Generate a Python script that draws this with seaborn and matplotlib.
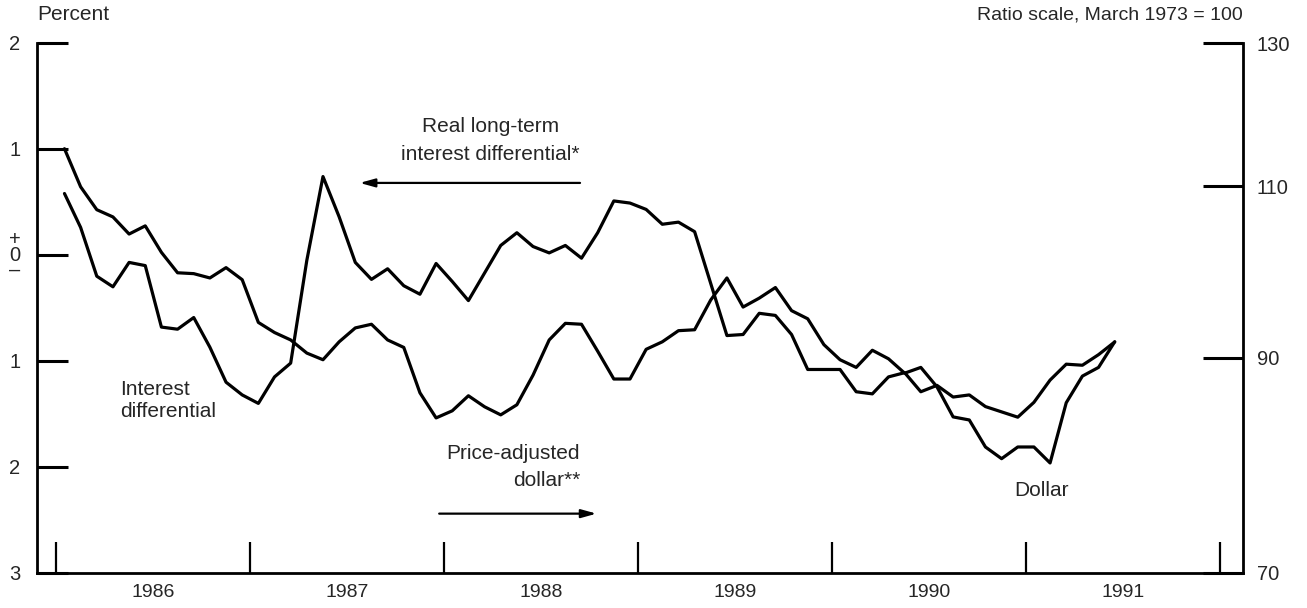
import numpy as np
import pandas as pd
import matplotlib
matplotlib.use("Agg")
import matplotlib.pyplot as plt
import seaborn as sns
from matplotlib.ticker import FixedLocator, FixedFormatter, NullLocator

sns.set_style("white")
plt.rcParams['font.family'] = ['Liberation Sans', 'DejaVu Sans']

# monthly values, Jan 1986 - Jun 1991
interest_diff = [0.58, 0.26, -0.20, -0.30, -0.07, -0.10, -0.68, -0.70, -0.59, -0.87, -1.20, -1.32,
                 -1.40, -1.15, -1.02, -0.05, 0.74, 0.36, -0.07, -0.23, -0.13, -0.29, -0.37, -0.08,
                 -0.25, -0.43, -0.17, 0.09, 0.21, 0.08, 0.02, 0.09, -0.03, 0.21, 0.51, 0.49,
                 0.43, 0.29, 0.31, 0.22, -0.27, -0.76, -0.75, -0.55, -0.57, -0.75, -1.08, -1.08,
                 -1.08, -1.29, -1.31, -1.15, -1.11, -1.29, -1.23, -1.34, -1.32, -1.43, -1.48, -1.53,
                 -1.39, -1.18, -1.03, -1.04, -0.94, -0.82]
real_dollar = [114.9, 109.9, 107.0, 106.1, 104.0, 105.0, 101.8, 99.4, 99.3, 98.8, 100.0, 98.6,
               93.8, 92.7, 91.9, 90.5, 89.8, 91.7, 93.2, 93.6, 91.9, 91.1, 86.4, 83.9,
               84.6, 86.1, 85.0, 84.2, 85.2, 88.2, 91.9, 93.7, 93.6, 90.7, 87.8, 87.8,
               90.9, 91.7, 92.9, 93.0, 96.3, 98.8, 95.5, 96.5, 97.7, 95.1, 94.2, 91.4,
               89.8, 89.0, 90.8, 89.9, 88.4, 89.0, 87.0, 84.0, 83.7, 81.1, 80.0, 81.1,
               81.1, 79.6, 85.4, 88.1, 89.0, 91.7]

year_ticks = [1986, 1987, 1988, 1989, 1990, 1991, 1992]
year_labels = ["1986", "1987", "1988", "1989", "1990", "1991"]
left_ticks = [2, 1, 0, -1, -2, -3]
left_labels = ["2", "1", "+\n0\n\u2013", "1", "2", "3"]
right_ticks = [130, 110, 90, 70]
right_labels = ["130", "110", "90", "70"]

months = np.arange(len(interest_diff))
df = pd.DataFrame({"t": 1986 + (months + 0.5) / 12,
                   "interest": interest_diff,
                   "dollar": real_dollar})

fig = plt.figure(figsize=(13.07, 6.08), dpi=100)
ax = fig.add_axes([37 / 1307, 35 / 608, 1206 / 1307, 530 / 608])
ax2 = ax.twinx()

sns.lineplot(data=df, x="t", y="interest", ax=ax, color="black", lw=2.3)
sns.lineplot(data=df, x="t", y="dollar", ax=ax2, color="black", lw=2.3)

ax2.set_yscale("log")
ax.set_xlim(1985.90, 1992.12)
ax.set_ylim(-3, 2)
ax2.set_ylim(70, 130)
for a in (ax, ax2):
    a.set_xlabel("")
    a.set_ylabel("")

# x axis: year boundaries as ticks, labels in the middle of each year
ax.xaxis.set_major_locator(FixedLocator(year_ticks))
ax.xaxis.set_major_formatter(FixedFormatter([""] * len(year_ticks)))
ax.xaxis.set_minor_locator(FixedLocator([y + 0.5 for y in year_ticks[:-1]]))
ax.xaxis.set_minor_formatter(FixedFormatter(year_labels))
ax.tick_params(axis="x", which="major", bottom=True, direction="in", length=22, width=1.6, color="black")
ax.tick_params(axis="x", which="minor", bottom=True, length=0, pad=8, labelsize=14)

ax.yaxis.set_major_locator(FixedLocator(left_ticks))
ax.yaxis.set_major_formatter(FixedFormatter(left_labels))
ax.tick_params(axis="y", left=True, direction="in", length=22, width=2.2, pad=12, labelsize=14.5, color="black")
for lab in ax.get_yticklabels():
    lab.set_linespacing(0.75)

ax2.yaxis.set_major_locator(FixedLocator(right_ticks))
ax2.yaxis.set_major_formatter(FixedFormatter(right_labels))
ax2.yaxis.set_minor_locator(NullLocator())
ax2.tick_params(axis="y", right=True, direction="in", length=29, width=2.2, pad=10, labelsize=14.5, color="black")

ax.spines["top"].set_visible(False)
ax.spines["right"].set_visible(False)
for s in ("top", "left", "bottom"):
    ax2.spines[s].set_visible(False)
for s in ("left", "bottom"):
    ax.spines[s].set_color("black")
    ax.spines[s].set_linewidth(2)
ax2.spines["right"].set_color("black")
ax2.spines["right"].set_linewidth(2)

# labels and arrows
fig.text(37 / 1307, 1 - 15 / 608, "Percent", ha="left", va="center", fontsize=15)
fig.text(1243 / 1307, 1 - 15 / 608, "Ratio scale, March 1973 = 100", ha="right", va="center", fontsize=14)

ax.text(1988.24, 1.08, "Real long-term\ninterest differential*", ha="center", va="center",
        fontsize=15, linespacing=1.55)
ax.annotate("", xy=(1987.55, 0.68), xytext=(1988.715, 0.68),
            arrowprops=dict(arrowstyle="-|>,head_length=0.9,head_width=0.25", color="black", lw=1.6))

ax.text(1988.70, -2.0, "Price-adjusted\ndollar**", ha="right", va="center",
        fontsize=15, linespacing=1.55)
ax.annotate("", xy=(1988.80, -2.44), xytext=(1987.96, -2.44),
            arrowprops=dict(arrowstyle="-|>,head_length=0.9,head_width=0.25", color="black", lw=1.6))

ax.text(1986.33, -1.37, "Interest\ndifferential", ha="left", va="center", fontsize=15, linespacing=1.2)
ax.text(1991.08, -2.22, "Dollar", ha="center", va="center", fontsize=15)

fig.savefig("out.png", dpi=100)
